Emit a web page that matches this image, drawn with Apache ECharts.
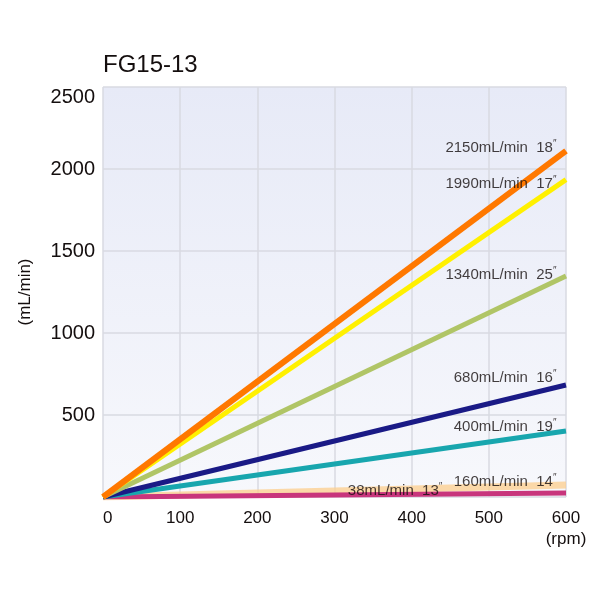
<!DOCTYPE html>
<html>
<head>
<meta charset="utf-8">
<script src="https://cdn.jsdelivr.net/npm/echarts@6/dist/echarts.min.js"></script>
<style>
  html, body { margin: 0; padding: 0; background: #fff; }
  #chart { width: 600px; height: 600px; }
</style>
</head>
<body>
<div id="chart"></div>
<script>
// 转速范围 (rpm)
const rpmRange = [0, 600];
// 各管径在 600rpm 的流量（按图读取线端位置）
const endFlow = [73, 24, 402, 683, 1348, 1935, 2110];
const tubeNames = ["14#", "13#", "19#", "16#", "25#", "17#", "18#"];
const flowText = ["160mL/min  14", "38mL/min  13", "400mL/min  19", "680mL/min  16", "1340mL/min  25", "1990mL/min  17", "2150mL/min  18"];
const xTicks = [0, 100, 200, 300, 400, 500, 600];
const yTicks = [0, 500, 1000, 1500, 2000, 2500];

const lineColors = ["rgba(252,206,140,0.75)", "#c8357c", "#18a6ae", "#1a1a86", "#b0c566", "#fff000", "#ff7800"];
const lineWidths = [7, 5, 5, 5, 5, 5, 6];
// 标签相对线端的竖直偏移
const labelDy = [-3, 0, -4, -7, -1, 4, -3];

const chart = echarts.init(document.getElementById("chart"));

const labelFont = "Liberation Sans, Arial, sans-serif";
const textColor = "#140e0e";

let series = [];
let labelData = [];
for (let i = 0; i < endFlow.length; i++) {
    series.push({
        name: tubeNames[i],
        type: "line",
        symbol: "none",
        silent: true,
        lineStyle: { color: lineColors[i], width: lineWidths[i], cap: "butt" },
        data: [[rpmRange[0], 0], [rpmRange[1], endFlow[i]]]
    });
    // 13# 的标签写在线的中段上
    labelData.push({
        value: i === 1 ? [452, 40] : [rpmRange[1], endFlow[i]],
        label: { offset: [0, labelDy[i]] }
    });
}

// 流量标签
series.push({
    name: "labels",
    type: "scatter",
    symbolSize: 1,
    silent: true,
    z: 5,
    itemStyle: { color: "rgba(0,0,0,0)" },
    label: {
        show: true,
        position: "left",
        distance: 9,
        formatter: p => "{t|" + flowText[p.dataIndex] + "}{s|″}",
        fontFamily: labelFont,
        fontSize: 15,
        color: textColor,
        rich: {
            t: { fontFamily: labelFont, fontSize: 15, lineHeight: 17, color: textColor },
            s: { fontFamily: labelFont, fontSize: 10, lineHeight: 10, verticalAlign: "top", color: textColor }
        }
    },
    data: labelData
});

const option = {
    animation: false,
    backgroundColor: "#ffffff",
    title: {
        text: "FG15-13",
        left: 98,
        top: 48,
        textStyle: { fontFamily: "Liberation Sans, sans-serif", fontSize: 24, fontWeight: "normal", color: textColor }
    },
    grid: {
        left: 103,
        right: 34,
        top: 87,
        bottom: 103,
        show: true,
        borderWidth: 0,
        backgroundColor: {
            type: "linear", x: 0, y: 0, x2: 0, y2: 1,
            colorStops: [
                { offset: 0, color: "#e7eaf7" },
                { offset: 1, color: "#f7f8fc" }
            ]
        }
    },
    xAxis: {
        type: "value",
        min: xTicks[0],
        max: xTicks[xTicks.length - 1],
        interval: 100,
        axisLine: { show: false },
        axisTick: { show: false },
        splitLine: { show: true, lineStyle: { color: "#d9dae2", width: 1.5 } },
        axisLabel: {
            margin: 11,
            fontFamily: "Liberation Sans, sans-serif",
            fontSize: 17,
            lineHeight: 21,
            color: textColor,
            alignMinLabel: "left",
            formatter: v => (v === 600 ? v + "\n(rpm)" : String(v))
        }
    },
    yAxis: {
        type: "value",
        min: yTicks[0],
        max: yTicks[yTicks.length - 1],
        interval: 500,
        name: "(mL/min)",
        nameLocation: "middle",
        nameRotate: 90,
        nameGap: 69,
        nameTextStyle: { fontFamily: "Liberation Sans, sans-serif", fontSize: 17, color: textColor },
        axisLine: { show: false },
        axisTick: { show: false },
        splitLine: { show: true, lineStyle: { color: "#d9dae2", width: 1.5 } },
        axisLabel: {
            margin: 8,
            showMinLabel: false,
            fontFamily: "Liberation Sans, sans-serif",
            fontSize: 20,
            color: textColor,
            formatter: v => (v === 2500 ? "{top|" + v + "}" : String(v)),
            rich: { top: { fontSize: 20, padding: [20, 0, 0, 0] } }
        }
    },
    series
};

chart.setOption(option);
</script>
</body>
</html>
